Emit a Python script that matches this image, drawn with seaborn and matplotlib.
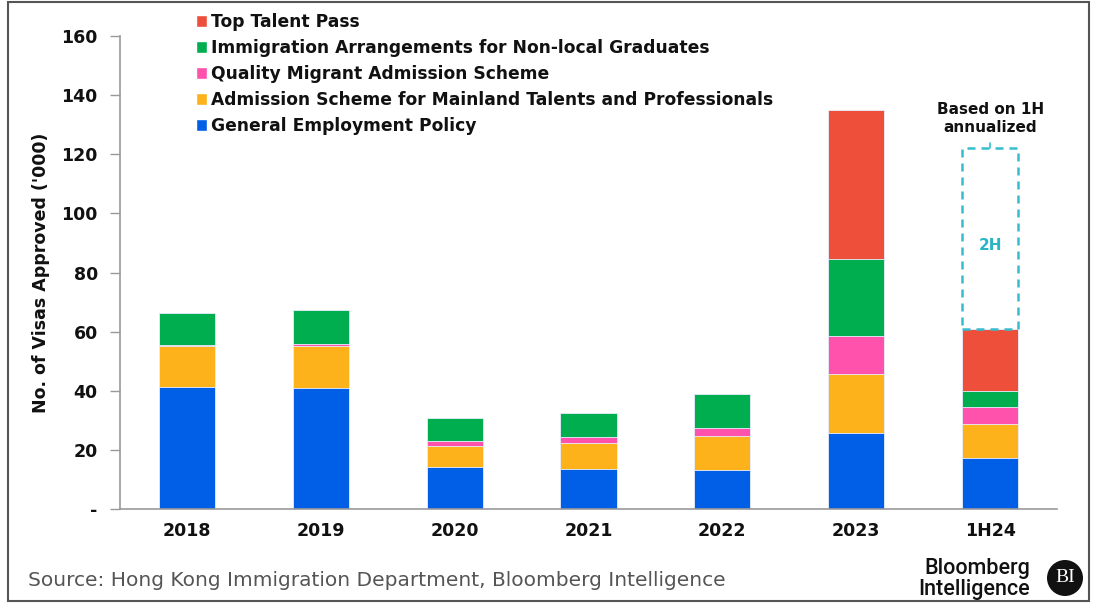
import numpy as np
import pandas as pd
import matplotlib
matplotlib.use("Agg")
import matplotlib.pyplot as plt
import matplotlib.patches as mpatches
import seaborn as sns

# Visa approvals by scheme ('000)
periods = ["2018", "2019", "2020", "2021", "2022", "2023", "1H24"]
general_employment = [41.1, 40.9, 14.3, 13.5, 13.2, 25.8, 17.1]
mainland_talents = [14.1, 14.1, 6.9, 8.9, 11.4, 19.9, 11.7]
quality_migrant = [0.2, 0.9, 1.7, 2.1, 2.9, 12.7, 5.6]
nonlocal_graduates = [11.0, 11.5, 8.0, 8.1, 11.3, 26.2, 5.5]
top_talent = [0.0, 0.0, 0.0, 0.0, 0.0, 50.5, 21.1]

series_names = [
    "General Employment Policy",
    "Admission Scheme for Mainland Talents and Professionals",
    "Quality Migrant Admission Scheme",
    "Immigration Arrangements for Non-local Graduates",
    "Top Talent Pass",
]
series_values = [general_employment, mainland_talents, quality_migrant,
                 nonlocal_graduates, top_talent]
colors = ["#005FE6", "#FDB11A", "#FF52AC", "#00AE4F", "#EE4F3B"]
ytick_values = [0, 20, 40, 60, 80, 100, 120, 140, 160]
ytick_labels = ["-", "20", "40", "60", "80", "100", "120", "140", "160"]

sns.set_theme(style="white")
plt.rcParams["font.family"] = ["DejaVu Sans"]

fig = plt.figure(figsize=(10.98, 6.08), dpi=100)
ax = fig.add_axes([120 / 1098, 1 - 509 / 608, (1057 - 120) / 1098, (509 - 36) / 608])

# Stacked bars: draw cumulative totals from the top layer down
cum = np.cumsum(np.array(series_values), axis=0)
bar_width = 0.42
for i in range(len(series_names) - 1, -1, -1):
    df = pd.DataFrame({"period": periods, "value": cum[i]})
    sns.barplot(data=df, x="period", y="value", color=colors[i], width=bar_width,
                saturation=1, ax=ax, edgecolor="#E8F0FF", linewidth=0.6)

# Projected second half for 1H24 (annualized)
last = len(periods) - 1
half_total = cum[-1][last]
box = mpatches.Rectangle((last - bar_width / 2, half_total), bar_width, half_total,
                         fill=False, edgecolor="#35BDD0", linestyle=(0, (3.2, 2.4)),
                         linewidth=1.8, zorder=5)
ax.add_patch(box)
ax.text(last, half_total * 1.46, "2H", ha="center", va="center", color="#2BB3C6",
        fontsize=11, fontweight="bold")
ax.plot([last, last], [half_total * 2, half_total * 2 + 1.8], color="#35BDD0", lw=1.2)
ax.text(last, half_total * 2 + 4.5, "Based on 1H\nannualized", ha="center", va="bottom",
        fontsize=11, fontweight="bold", color="#111111", linespacing=1.25)

ax.set_xlim(-0.5, len(periods) - 0.5)
ax.set_ylim(0, 160)
ax.set_yticks(ytick_values)
ax.set_yticklabels(ytick_labels, fontsize=12.5, fontweight="bold", color="#111111")
ax.set_xticks(range(len(periods)))
ax.set_xticklabels(periods, fontsize=12.5, fontweight="bold", color="#111111")
ax.set_xticks(np.arange(-0.5, len(periods)), minor=True)
ax.tick_params(axis="x", which="major", length=0, pad=9)
ax.tick_params(axis="x", which="minor", length=6, width=1, color="#999999", direction="out")
ax.tick_params(axis="y", length=7, width=1, color="#999999", direction="out", pad=9, left=True)
ax.set_xlabel("")
ax.set_ylabel("No. of Visas Approved ('000)", fontsize=12.5, fontweight="bold",
              color="#111111", labelpad=8)
for side in ["top", "right"]:
    ax.spines[side].set_visible(False)
for side in ["left", "bottom"]:
    ax.spines[side].set_color("#999999")
    ax.spines[side].set_linewidth(1.2)
ax.grid(False)

# Legend, top layer first
handles = [mpatches.Patch(facecolor=c) for c in colors][::-1]
fig.legend(handles, series_names[::-1], loc="upper left",
           bbox_to_anchor=(184 / 1098, 1 - 1 / 608), frameon=False,
           handlelength=0.65, handleheight=0.65, handletextpad=0.25,
           labelspacing=0.47, prop={"weight": "bold", "size": 12.3}, borderpad=0.2,
           labelcolor="#111111")

# Footer
fig.text(28 / 1098, 1 - 580 / 608, "Source: Hong Kong Immigration Department, Bloomberg Intelligence",
         fontsize=14.5, color="#555555", va="center", ha="left")
fig.text(1030 / 1098, 1 - 579 / 608, "Bloomberg\nIntelligence", fontsize=15.5,
         color="#111111", va="center", ha="right", linespacing=1.0,
         fontweight="medium", family=["Roboto", "DejaVu Sans"])
circ = mpatches.Ellipse((1065 / 1098, 1 - 578 / 608), 36 / 1098, 36 / 608,
                        transform=fig.transFigure, facecolor="#111111", edgecolor="none")
fig.patches.append(circ)
fig.text(1065 / 1098, 1 - 578 / 608, "BI", fontsize=14, color="white",
         ha="center", va="center", family="Liberation Serif")

# Outer frame
frame = mpatches.Rectangle((8 / 1098, 1 - 601 / 608), (1089 - 8) / 1098, (601 - 2) / 608,
                           transform=fig.transFigure, fill=False,
                           edgecolor="#555555", linewidth=1.5)
fig.patches.append(frame)

fig.savefig("out.png", dpi=100)
